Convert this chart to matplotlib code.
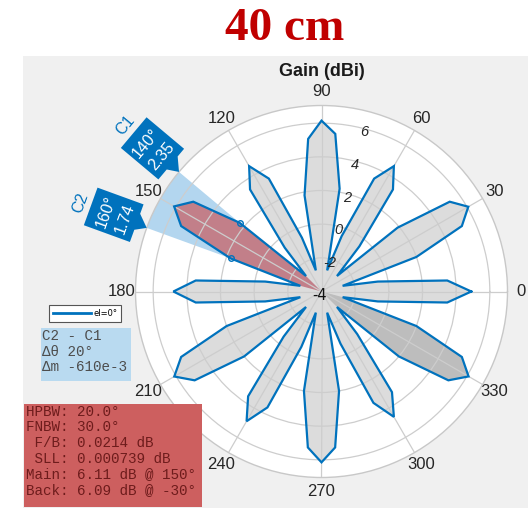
import numpy as np
import matplotlib
matplotlib.use('Agg')
import matplotlib.pyplot as plt
from matplotlib.patches import Rectangle, Polygon
from matplotlib.lines import Line2D
from matplotlib.transforms import IdentityTransform, ScaledTranslation

# ---------------- data ----------------
angles_deg = list(range(0, 360, 5))
gain_dbi = [4.9, 3.5, -0.6, -2.7, 2.0, 5.2, 6.07, 5.3, 1.9, -2.7,
            -0.5, 3.4, 4.6, 3.4, -0.5, -2.7, 2.2, 5.4, 6.15, 5.1,
            1.8, -2.7, -0.6, 3.4, 4.6, 3.4, -0.6, -2.7, 2.35, 5.3,
            6.11, 5.2, 1.74, -2.7, -0.6, 3.5, 4.8, 3.5, -0.6, -2.7,
            2.0, 5.2, 6.1, 5.2, 2.0, -2.7, -0.5, 3.6, 4.9, 3.6,
            -0.5, -2.7, 2.0, 5.3, 6.15, 5.3, 2.0, -2.7, -0.7, 3.3,
            4.6, 3.3, -0.7, -2.7, 2.0, 5.2, 6.09, 5.2, 2.0, -2.7,
            -0.6, 3.5]
main_lobe_deg = 150
back_lobe_deg = 330
lobe_half_width_deg = 15
cursor_names = ['C1', 'C2']
cursor_angles_deg = [140, 160]
theta_ticks = [0, 30, 60, 90, 120, 150, 180, 210, 240, 270, 300, 330]
r_ticks = [-4, -2, 0, 2, 4, 6]
r_limits = (-4, 7.05)
r_label_angle_deg = 75
legend_label = 'el=0°'
delta_lines = ['C2 - C1', 'Δθ 20°', 'Δm -610e-3']
metric_lines = ['HPBW: 20.0°', 'FNBW: 30.0°', ' F/B: 0.0214 dB',
                ' SLL: 0.000739 dB', 'Main: 6.11 dB @ 150°',
                'Back: 6.09 dB @ -30°']
title_text = '40 cm'
axes_title = 'Gain (dBi)'

BLUE = '#0072bd'
W, H = 528, 508

fig = plt.figure(figsize=(W / 100, H / 100), dpi=100)
fig.patch.set_facecolor('white')

# grey panel
fig.add_artist(Rectangle((23 / W, 0), 1 - 23 / W, 1 - 56 / H,
                         transform=fig.transFigure, facecolor='#f0f0f0',
                         edgecolor='none', zorder=0))

fig.text(285 / W, 1 - 40 / H, title_text, ha='center', va='baseline',
         fontsize=34, fontweight='bold', family='Liberation Serif',
         color='#c00000')
fig.text(322 / W, 1 - 71 / H, axes_title, ha='center', va='center',
         fontsize=13, fontweight='bold', family='Liberation Sans',
         color='#1a1a1a')

cx, cy, R = 321.5, 291.5, 186
ax = fig.add_axes([(cx - R) / W, (H - cy - R) / H, 2 * R / W, 2 * R / H],
                  projection='polar')
ax.set_facecolor('white')
ax.set_ylim(*r_limits)

theta = np.radians(angles_deg)
g = np.array(gain_dbi)

# span wedge between cursors
c0, c1 = np.radians(cursor_angles_deg[0]), np.radians(cursor_angles_deg[1])
ax.bar((c0 + c1) / 2, r_limits[1] - r_limits[0], width=abs(c1 - c0),
       bottom=r_limits[0], color='#b3d6ef', edgecolor='none', zorder=0.8)

# whole pattern fill
ax.fill(np.append(theta, theta[0]), np.append(g, g[0]), color='#dcdcdc',
        zorder=1, lw=0)


def lobe_fill(center, color):
    sel = [i for i, a in enumerate(angles_deg)
           if min(abs(a - center), 360 - abs(a - center)) <= lobe_half_width_deg]
    sel = sorted(sel, key=lambda i: ((angles_deg[i] - center + 180) % 360))
    th = [theta[i] for i in sel] + [np.radians(center)]
    rr = [g[i] for i in sel] + [r_limits[0]]
    ax.fill(th, rr, color=color, zorder=1.1, lw=0)


lobe_fill(main_lobe_deg, '#c27f89')
lobe_fill(back_lobe_deg, '#bdbdbd')

ax.plot(np.append(theta, theta[0]), np.append(g, g[0]), color=BLUE, lw=1.6,
        zorder=3, label=legend_label, solid_joinstyle='miter')

# cursor markers
cur_vals = [gain_dbi[angles_deg.index(a)] for a in cursor_angles_deg]
ax.plot(np.radians(cursor_angles_deg), cur_vals, 'o', mfc='none', mec=BLUE,
        ms=4, mew=1, zorder=4)

ax.set_axisbelow('line')
ax.set_xticks(np.radians(theta_ticks))
ax.set_xticklabels([str(t) for t in theta_ticks], fontsize=12,
                   color='#262626', family='Liberation Sans')
ax.set_yticks(r_ticks)
ax.set_yticklabels([])
ax.grid(True, color='#cdcdcd', lw=0.9)
ax.spines['polar'].set_color('#c8c8c8')
ax.spines['polar'].set_linewidth(1.0)
ax.tick_params(axis='x', pad=-0.5)

# radial tick labels
for t in r_ticks:
    if t == r_limits[0]:
        off = ax.transData + ScaledTranslation(-0.015, -0.045,
                                               fig.dpi_scale_trans)
        ax.text(0, t, str(t), ha='center', va='center',
                fontsize=10.5, color='#111111',
                family='DejaVu Sans', zorder=4.5, transform=off)
    else:
        ax.text(np.radians(r_label_angle_deg), t - 0.22, str(t), ha='center',
                va='center', fontsize=10.5, style='italic', color='#262626',
                family='Liberation Sans', zorder=4)

# cursor callouts (display pixel coordinates)
for name, a, val in zip(cursor_names, cursor_angles_deg, cur_vals):
    tx, ty = ax.transData.transform((np.radians(a), r_limits[1]))
    th = np.radians(a)
    ph = th - np.pi / 2
    u = np.array([np.cos(ph), np.sin(ph)])
    v = np.array([np.cos(th), np.sin(th)])
    T = np.array([tx, ty])
    local = [(-19, 11), (-6, 11), (0, 0), (11, 11), (21, 11), (21, 60),
             (-19, 60)]
    pts = [T + p * u + q * v for p, q in local]
    fig.add_artist(Polygon(pts, closed=True, transform=IdentityTransform(),
                           facecolor=BLUE, edgecolor='none', zorder=5))
    for q, s, col in [(44, f'{a}°', 'white'), (24, f'{val:.2f}', 'white'),
                      (71, name, BLUE)]:
        p = T + 1 * u + q * v
        fig.text(p[0], p[1], s, transform=IdentityTransform(),
                 rotation=np.degrees(ph), rotation_mode='anchor',
                 ha='center', va='center', fontsize=11.5, color=col,
                 family='Liberation Sans', zorder=6)

# legend
leg = fig.legend(handles=[Line2D([], [], color=BLUE, lw=2)],
                 labels=[legend_label], loc='upper left',
                 bbox_to_anchor=(49 / W, 1 - 305 / H),
                 bbox_transform=fig.transFigure, fontsize=6,
                 handlelength=4.6, handletextpad=0.3, borderpad=0.45,
                 frameon=True, fancybox=False, edgecolor='#555555',
                 framealpha=1, borderaxespad=0)
leg.get_frame().set_linewidth(0.8)

# delta box
fig.add_artist(Rectangle((40.7 / W, 1 - 380.7 / H), 90 / W, 52.4 / H,
                         transform=fig.transFigure, facecolor='#b9daf0',
                         edgecolor='none', zorder=5))
for s, yy in zip(delta_lines, [336, 351.5, 367]):
    fig.text(42 / W, 1 - yy / H, s, ha='left', va='center', fontsize=10.3,
             family='Liberation Mono', color='#4d4d4d', zorder=6)

# metrics box
fig.add_artist(Rectangle((24 / W, 1 - 507 / H), 178 / W, 103 / H,
                         transform=fig.transFigure, facecolor='#cd5f5f',
                         edgecolor='none', zorder=5))
for s, yy in zip(metric_lines, [411.7, 427.3, 443.0, 458.8, 474.5, 490.3]):
    fig.text(25.5 / W, 1 - yy / H, s, ha='left', va='center', fontsize=10.3,
             family='Liberation Mono', color='#6e1c1c', zorder=6)

fig.savefig('out.png', dpi=100)
